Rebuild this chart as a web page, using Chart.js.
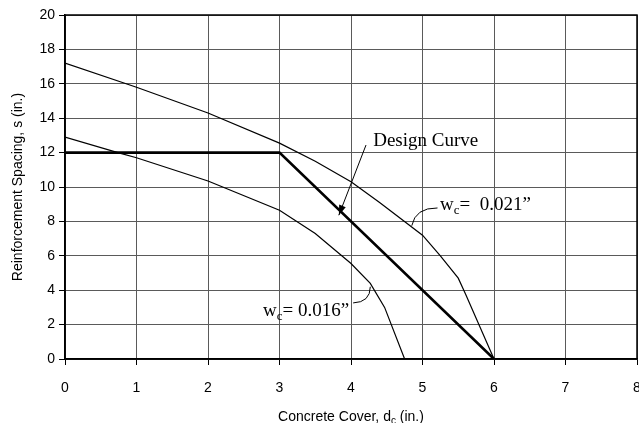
<!DOCTYPE html>
<html>
<head>
<meta charset="utf-8">
<script src="https://cdn.jsdelivr.net/npm/chart.js@4.4.1/dist/chart.umd.min.js"></script>
<style>
    html, body { margin: 0; padding: 0; background: #fff; }
    #wrap { width: 639px; height: 423px; }
</style>
</head>
<body>
<div id="wrap"><canvas id="chart"></canvas></div>
<script>
// design curve: 12 in. cap up to 3 in. cover, then straight down to 6 in.
const designX = [0, 3, 6];
const designY = [12, 12, 0];

// crack width 0.021"
const wc021X = [0, 1, 2, 3, 3.5, 4, 4.4, 5, 5.25, 5.5, 5.6, 6];
const wc021Y = [17.2, 15.8, 14.3, 12.55, 11.5, 10.3, 9.1, 7.2, 6.0, 4.7, 3.8, 0];

// crack width 0.016"
const wc016X = [0, 0.74, 1, 2, 3, 3.5, 4, 4.27, 4.47, 4.75];
const wc016Y = [12.9, 12, 11.7, 10.35, 8.65, 7.3, 5.55, 4.4, 3.0, 0];

const xMin = 0, xMax = 8, xStep = 1;
const yMin = 0, yMax = 20, yStep = 2;

function toPoints(xs, ys) {
    return xs.map((x, i) => ({ x: x, y: ys[i] }));
}

const sansFont = '"Liberation Sans", Arial, sans-serif';
const serifFont = '"Liberation Serif", "Times New Roman", serif';

// draws a run of text pieces, some of them as subscripts
function drawRuns(ctx, x, y, runs, align) {
    let total = 0;
    runs.forEach(r => { ctx.font = r.font; total += ctx.measureText(r.text).width; });
    let cx = align === 'center' ? x - total / 2 : x;
    runs.forEach(r => {
        ctx.font = r.font;
        ctx.fillText(r.text, cx, y + (r.dy || 0));
        cx += ctx.measureText(r.text).width;
    });
}

function wcLabel(value) {
    return [
        { text: 'w', font: '19px ' + serifFont },
        { text: 'c', font: '13px ' + serifFont, dy: 4 },
        { text: '= ' + value + '\u201d', font: '19px ' + serifFont },
    ];
}

const decorPlugin = {
    id: 'decor',
    afterDraw(chart) {
        const ctx = chart.ctx;
        const a = chart.chartArea;
        const xs = chart.scales.x;
        const ys = chart.scales.y;
        const px = v => xs.getPixelForValue(v);
        const py = v => ys.getPixelForValue(v);

        ctx.save();
        ctx.strokeStyle = '#000';
        ctx.lineWidth = 1.5;
        ctx.strokeRect(a.left, a.top, a.right - a.left, a.bottom - a.top);

        ctx.fillStyle = '#000';
        ctx.textBaseline = 'alphabetic';

        // x axis title
        ctx.textAlign = 'left';
        drawRuns(ctx, (a.left + a.right) / 2, 421, [
            { text: 'Concrete Cover, d', font: '14px ' + sansFont },
            { text: 'c', font: '10px ' + sansFont, dy: 3 },
            { text: ' (in.)', font: '14px ' + sansFont },
        ], 'center');

        // y axis title
        ctx.save();
        ctx.translate(18, (a.top + a.bottom) / 2);
        ctx.rotate(-Math.PI / 2);
        ctx.textAlign = 'center';
        ctx.textBaseline = 'middle';
        ctx.font = '14px ' + sansFont;
        ctx.fillText('Reinforcement Spacing, s (in.)', 0, 0);
        ctx.restore();

        // Design Curve label with arrow
        ctx.textAlign = 'left';
        ctx.font = '19px ' + serifFont;
        ctx.fillText('Design Curve', px(4.31), py(12.38));

        const x0 = px(4.21), y0 = py(12.44);
        const x1 = px(3.83), y1 = py(8.36);
        ctx.lineWidth = 1;
        ctx.beginPath();
        ctx.moveTo(x0, y0);
        ctx.lineTo(x1, y1);
        ctx.stroke();
        const ang = Math.atan2(y1 - y0, x1 - x0);
        const hl = 10, hw = 3.5;
        ctx.beginPath();
        ctx.moveTo(x1, y1);
        ctx.lineTo(x1 - hl * Math.cos(ang) + hw * Math.sin(ang), y1 - hl * Math.sin(ang) - hw * Math.cos(ang));
        ctx.lineTo(x1 - hl * Math.cos(ang) - hw * Math.sin(ang), y1 - hl * Math.sin(ang) + hw * Math.cos(ang));
        ctx.closePath();
        ctx.fill();

        // wc = 0.021" label and leader
        drawRuns(ctx, px(5.245), py(8.66), wcLabel(' 0.021'), 'left');
        ctx.beginPath();
        ctx.moveTo(px(5.21), py(8.78));
        ctx.quadraticCurveTo(px(4.9), py(8.8), px(4.85), py(7.75));
        ctx.stroke();

        // wc = 0.016" label and leader
        drawRuns(ctx, px(2.77), py(2.49), wcLabel('0.016'), 'left');
        ctx.beginPath();
        ctx.moveTo(px(4.03), py(3.26));
        ctx.quadraticCurveTo(px(4.27), py(3.3), px(4.27), py(4.2));
        ctx.stroke();

        ctx.restore();
    }
};

new Chart(document.getElementById('chart'), {
    type: 'scatter',
    data: {
        datasets: [
            {
                label: 'Design Curve',
                data: toPoints(designX, designY),
                showLine: true,
                borderColor: '#000',
                borderWidth: 2.6,
                pointRadius: 0,
                tension: 0,
            },
            {
                label: 'wc = 0.021',
                data: toPoints(wc021X, wc021Y),
                showLine: true,
                borderColor: '#000',
                borderWidth: 1.2,
                pointRadius: 0,
                tension: 0,
            },
            {
                label: 'wc = 0.016',
                data: toPoints(wc016X, wc016Y),
                showLine: true,
                borderColor: '#000',
                borderWidth: 1.2,
                pointRadius: 0,
                tension: 0,
            },
        ]
    },
    options: {
        responsive: true,
        maintainAspectRatio: false,
        animation: false,
        layout: {
            padding: { top: 15, right: 2, left: 0, bottom: 0 }
        },
        plugins: {
            legend: { display: false },
            tooltip: { enabled: false },
        },
        scales: {
            x: {
                type: 'linear',
                min: xMin,
                max: xMax,
                ticks: {
                    stepSize: xStep,
                    color: '#000',
                    padding: 15,
                    font: { family: sansFont, size: 14 },
                },
                grid: {
                    color: '#5a5a5a',
                    lineWidth: 1,
                    tickLength: 6,
                    tickColor: '#000',
                },
                border: { color: '#000', width: 1.5 },
                afterFit(scale) {
                    scale.height = 64;
                    scale.paddingLeft = 0;
                    scale.paddingRight = 0;
                },
            },
            y: {
                type: 'linear',
                min: yMin,
                max: yMax,
                ticks: {
                    stepSize: yStep,
                    color: '#000',
                    padding: 4,
                    font: { family: sansFont, size: 14 },
                },
                grid: {
                    color: '#5a5a5a',
                    lineWidth: 1,
                    tickLength: 6,
                    tickColor: '#000',
                },
                border: { color: '#000', width: 1.5 },
                afterFit(scale) {
                    scale.width = 65;
                    scale.paddingTop = 0;
                    scale.paddingBottom = 0;
                },
            },
        }
    },
    plugins: [decorPlugin]
});
</script>
</body>
</html>
